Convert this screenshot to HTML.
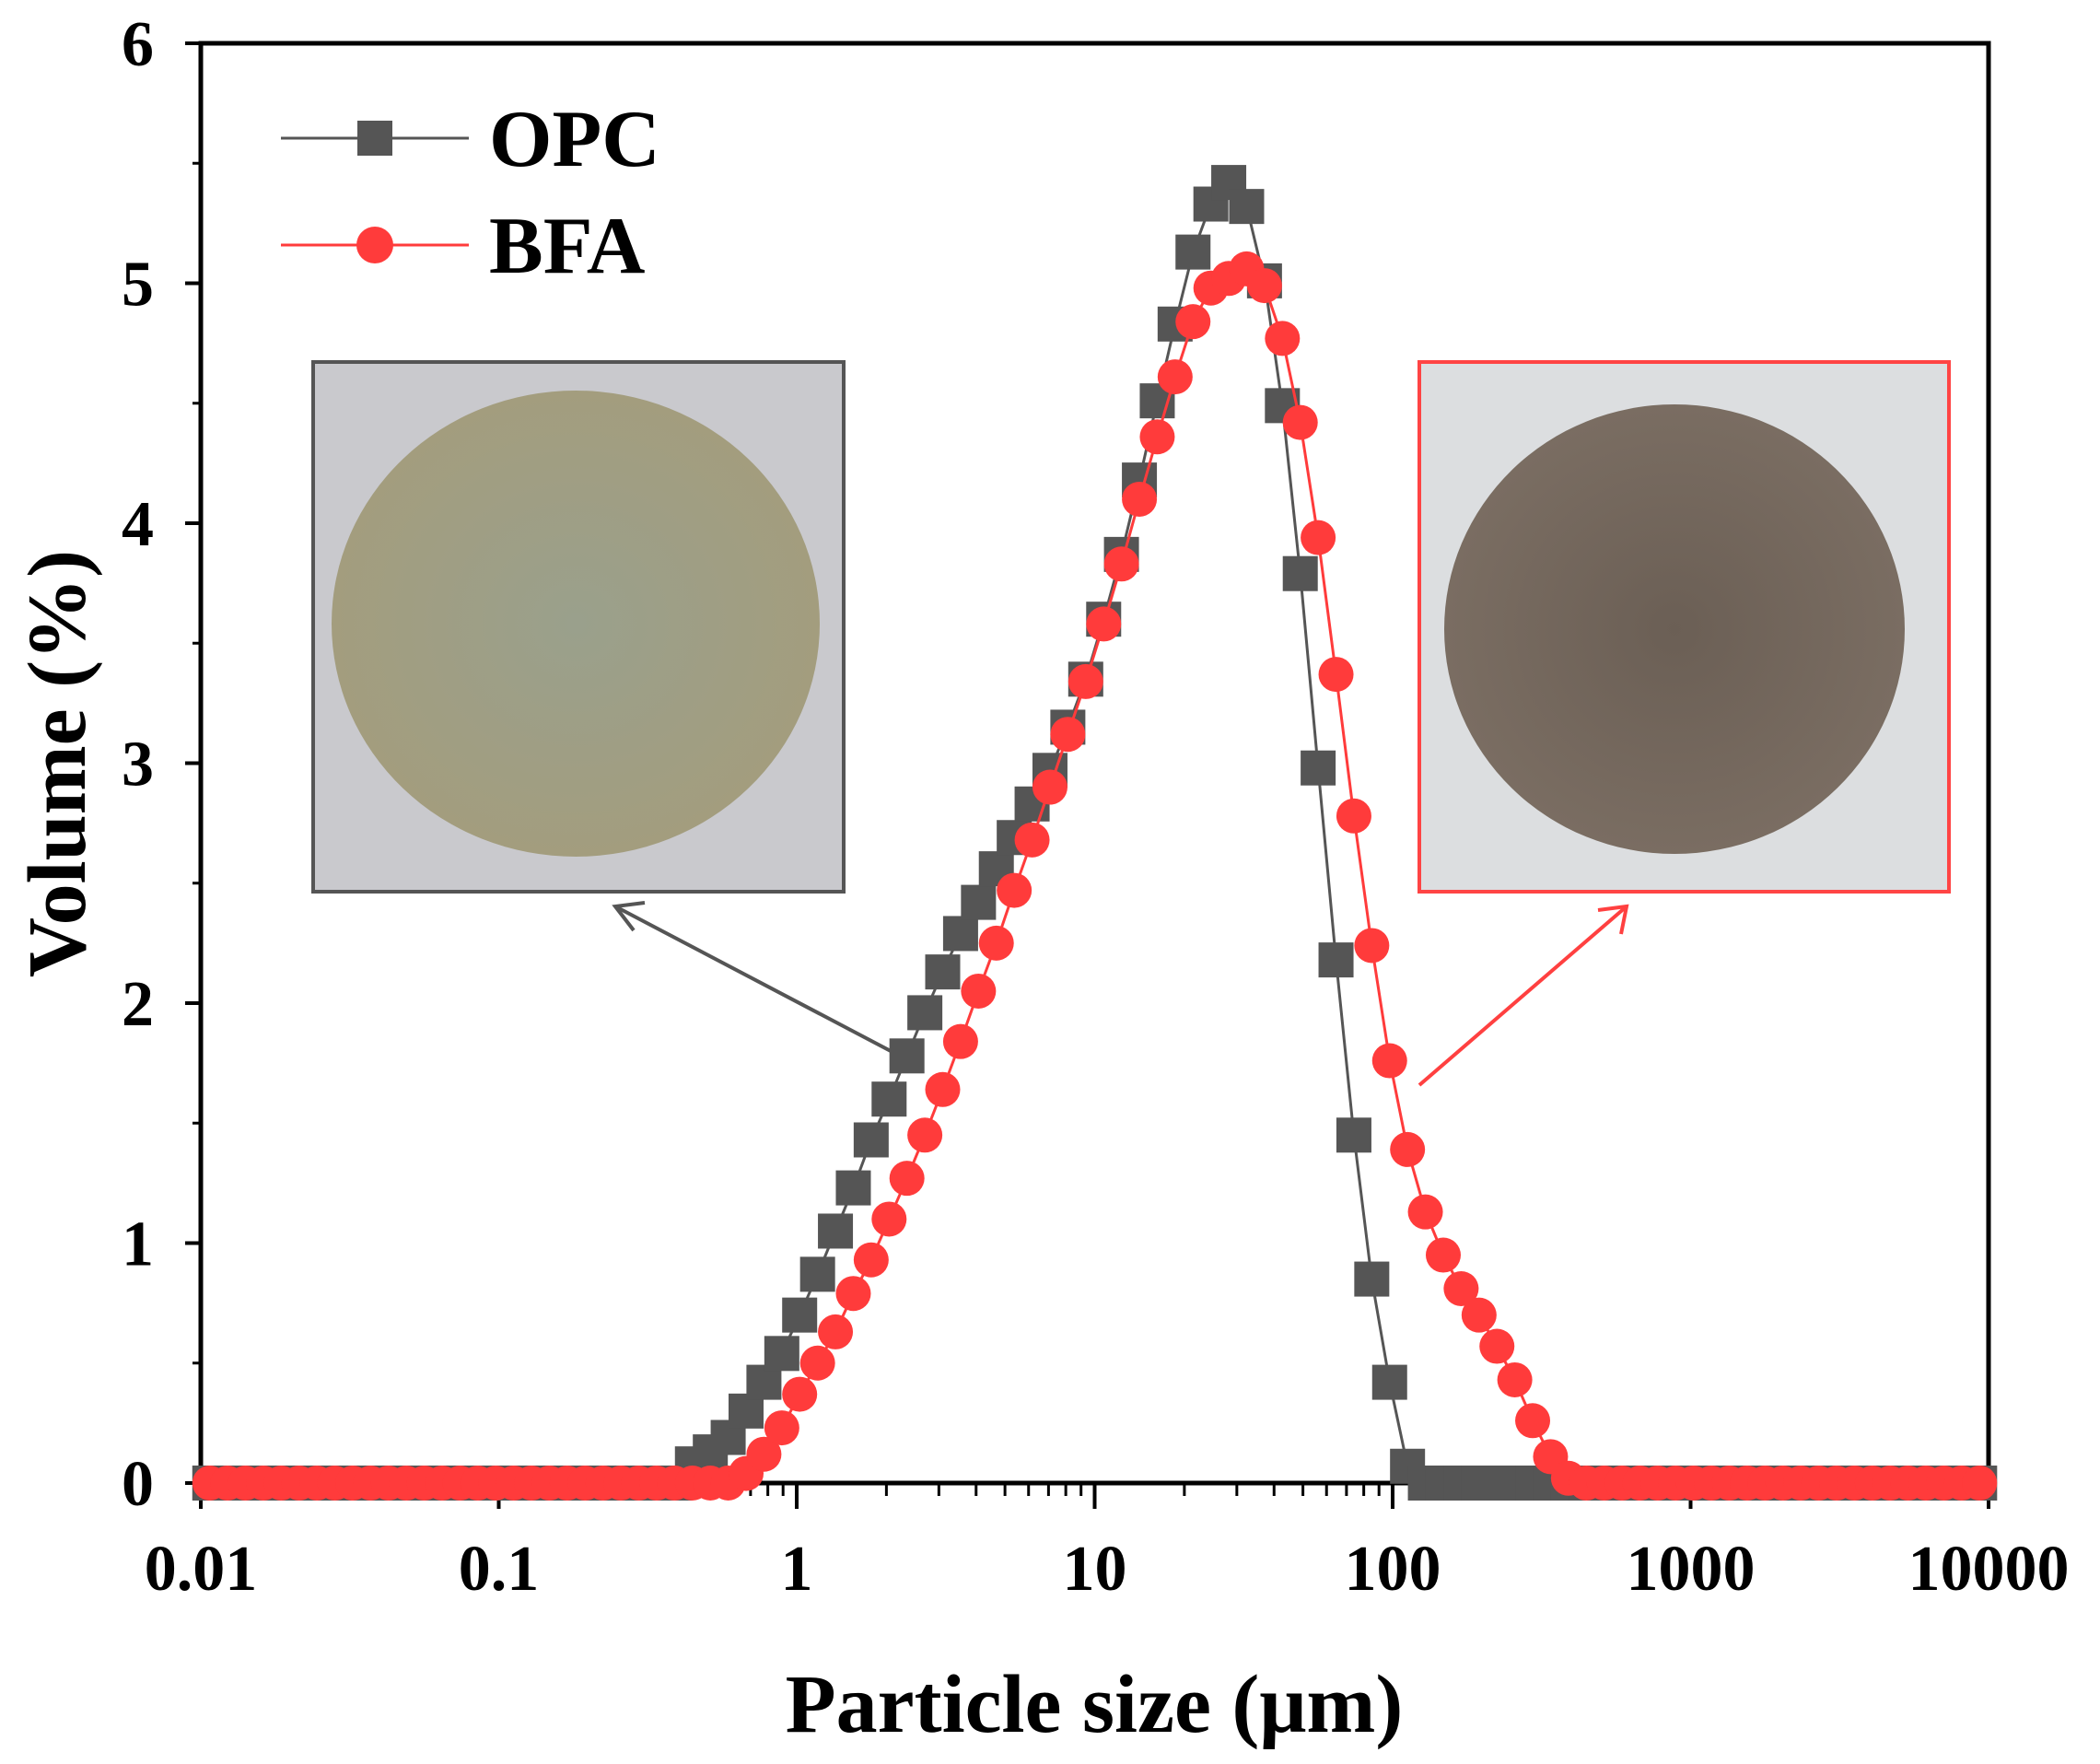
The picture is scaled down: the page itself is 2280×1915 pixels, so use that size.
<!DOCTYPE html>
<html><head><meta charset="utf-8">
<style>
html,body{margin:0;padding:0;background:#fff;}
svg{display:block;font-family:"Liberation Serif",serif;font-weight:bold;}
</style></head>
<body>
<svg id="chart" width="2280" height="1915" viewBox="0 0 2280 1915" xmlns="http://www.w3.org/2000/svg">
  <rect width="2280" height="1915" fill="#fff"/>
  <defs>
    <radialGradient id="opcg" cx="0.5" cy="0.5" r="0.5">
      <stop offset="0" stop-color="#9aa08c"/><stop offset="1" stop-color="#a39d7e"/>
    </radialGradient>
    <radialGradient id="bfag" cx="0.5" cy="0.5" r="0.5">
      <stop offset="0" stop-color="#6b5f55"/><stop offset="1" stop-color="#7a6d62"/>
    </radialGradient>
  </defs>
  <g>
    <rect x="340" y="393" width="576" height="575" fill="#c9c9cd" stroke="#555" stroke-width="4"/>
    <ellipse cx="625" cy="677" rx="265" ry="253" fill="url(#opcg)"/>
  </g>
  <g>
    <rect x="1541" y="393" width="575" height="575" fill="#dcdee0" stroke="#ff4444" stroke-width="4"/>
    <ellipse cx="1818" cy="683" rx="250" ry="244" fill="url(#bfag)"/>
  </g>
  <g stroke="#555" stroke-width="4" fill="none">
    <line x1="967" y1="1141" x2="668" y2="984"/>
    <polyline points="700,980 668,984 688,1010"/>
  </g>
  <g stroke="#ff4040" stroke-width="4" fill="none">
    <line x1="1541" y1="1178" x2="1766" y2="984"/>
    <polyline points="1735,988 1766,984 1760,1014"/>
  </g>
  <g id="axes"></g>
  <g id="series"></g>
  <g>
    <g>
      <line x1="305" y1="150" x2="509" y2="150" stroke="#555" stroke-width="3"/>
      <rect x="388" y="131" width="38" height="38" fill="#555"/>
      <text x="531" y="180" font-size="88" fill="#000">OPC</text>
    </g>
    <g>
      <line x1="305" y1="266" x2="509" y2="266" stroke="#ff3b3b" stroke-width="3"/>
      <circle cx="407" cy="266" r="20" fill="#ff3b3b"/>
      <text x="531" y="296" font-size="88" fill="#000">BFA</text>
    </g>
  </g>
  <text x="1188" y="1880" font-size="90" text-anchor="middle">Particle size (μm)</text>
  <text transform="translate(92,829) rotate(-90)" font-size="90" text-anchor="middle">Volume (%)</text>
</svg>
<script>
const sizes = [0.01072,0.0123,0.01413,0.01622,0.01862,0.02138,0.02455,0.02818,0.03236,0.03715,0.04266,0.04898,0.05623,0.06457,0.07413,0.08511,0.09772,
0.1122,0.1288,0.1479,0.1698,0.195,0.2239,0.257,0.2951,0.3388,0.389,0.4467,0.5129,0.5888,0.6761,0.7762,0.8913,
1.023,1.175,1.349,1.549,1.778,2.042,2.344,2.692,3.09,3.548,4.074,4.677,5.37,6.166,7.079,8.128,9.333,
10.72,12.3,14.13,16.22,18.62,21.38,24.55,28.18,32.36,37.15,42.66,48.98,56.23,64.57,74.13,85.11,97.72,
112.2,128.8,147.9,169.8,195,223.9,257,295.1,338.8,389,446.7,512.9,588.8,676.1,776.2,891.3,
1023,1175,1349,1549,1778,2042,2344,2692,3090,3548,4074,4677,5370,6166,7079,8128,9333];
const opcValues = [0,0,0,0,0,0,0,0,0,0,0,0,0,0,0,0,0,0,0,0,0,0,0,0,0,0,0,
0.08,0.13,0.19,0.3,0.42,0.54,0.7,0.87,1.05,1.23,1.43,1.6,1.78,1.96,2.13,2.29,2.42,2.56,2.69,2.83,2.97,3.15,3.35,3.6,3.87,4.18,4.51,4.83,5.13,5.33,5.42,5.32,5.01,4.49,3.79,2.98,2.18,1.45,0.85,0.42,0.07,
0,0,0,0,0,0,0,0,0,0,0,0,0,0,0,0,0,0,0,0,0,0,0,0,0,0,0,0,0,0,0,0];
const bfaValues = [0,0,0,0,0,0,0,0,0,0,0,0,0,0,0,0,0,0,0,0,0,0,0,0,0,0,0,0,0,0,
0.04,0.12,0.23,0.37,0.5,0.63,0.79,0.93,1.1,1.27,1.45,1.64,1.84,2.05,2.25,2.47,2.68,2.9,3.12,3.34,3.58,3.83,4.1,4.36,4.61,4.84,4.98,5.02,5.06,4.99,4.77,4.42,3.94,3.37,2.78,2.24,1.76,1.39,1.13,0.95,0.81,0.7,0.57,0.43,0.26,0.11,0.02,
0,0,0,0,0,0,0,0,0,0,0,0,0,0,0,0,0,0,0,0,0,0,0];
const xTickValues = [0.01,0.1,1,10,100,1000,10000];
const xTickLabels = ["0.01","0.1","1","10","100","1000","10000"];
const yTickValues = [0,1,2,3,4,5,6];

const NS="http://www.w3.org/2000/svg";
const L=218,R=2159,T=47,B=1610;
const xMin=-2,xMax=4,yMin=0,yMax=6;
function xs(v){return L+(Math.log10(v)-xMin)/(xMax-xMin)*(R-L);}
function ys(v){return B-(v-yMin)/(yMax-yMin)*(B-T);}
function mk(tag,attrs,parent){const e=document.createElementNS(NS,tag);for(const k in attrs)e.setAttribute(k,attrs[k]);parent.appendChild(e);return e;}

const axes=document.getElementById('axes');
const frame=mk('rect',{x:L,y:T,width:R-L,height:B-T,fill:'none',stroke:'#000','stroke-width':5},axes);


xTickValues.forEach((v,i)=>{
  const x=xs(v);
  const t=mk('line',{x1:x,y1:B,x2:x,y2:B+28,stroke:'#000','stroke-width':4},axes);
  
  
  const lb=mk('text',{x:x,y:1726,'font-size':70,'text-anchor':'middle'},axes);
  lb.textContent=xTickLabels[i];
  
  
  if(i<xTickValues.length-1){
    for(let m=2;m<=9;m++){
      const xm=xs(v*m);
      const mt=mk('line',{x1:xm,y1:B,x2:xm,y2:B+14,stroke:'#000','stroke-width':3},axes);
      
      
    }
  }
});
yTickValues.forEach((v,i)=>{
  const y=ys(v);
  const t=mk('line',{x1:L-17,y1:y,x2:L,y2:y,stroke:'#000','stroke-width':4},axes);
  
  
  const lb=mk('text',{x:167,y:y+24,'font-size':70,'text-anchor':'end'},axes);
  lb.textContent=String(v);
  
  
  if(i<yTickValues.length-1){
    const ym=ys(v+0.5);
    const mt=mk('line',{x1:L-9,y1:ym,x2:L,y2:ym,stroke:'#000','stroke-width':3},axes);
    
    
  }
});

const ser=document.getElementById('series');
function drawSeries(vals,color,shape,name){
  const g=mk('g',{},ser);
  
  
  const pts=vals.map((v,i)=>xs(sizes[i]).toFixed(1)+','+ys(v).toFixed(1)).join(' ');
  const pl=mk('polyline',{points:pts,fill:'none',stroke:color,'stroke-width':3},g);
  
  
  vals.forEach((v,i)=>{
    const x=xs(sizes[i]),y=ys(v);
    let m;
    if(shape==='square') m=mk('rect',{x:x-19,y:y-19,width:38,height:38,fill:color},g);
    else m=mk('circle',{cx:x,cy:y,r:19,fill:color},g);
    
    
  });
}
drawSeries(opcValues,'#555555','square','opc');
drawSeries(bfaValues,'#ff3b3b','circle','bfa');
</script>
</body></html>
